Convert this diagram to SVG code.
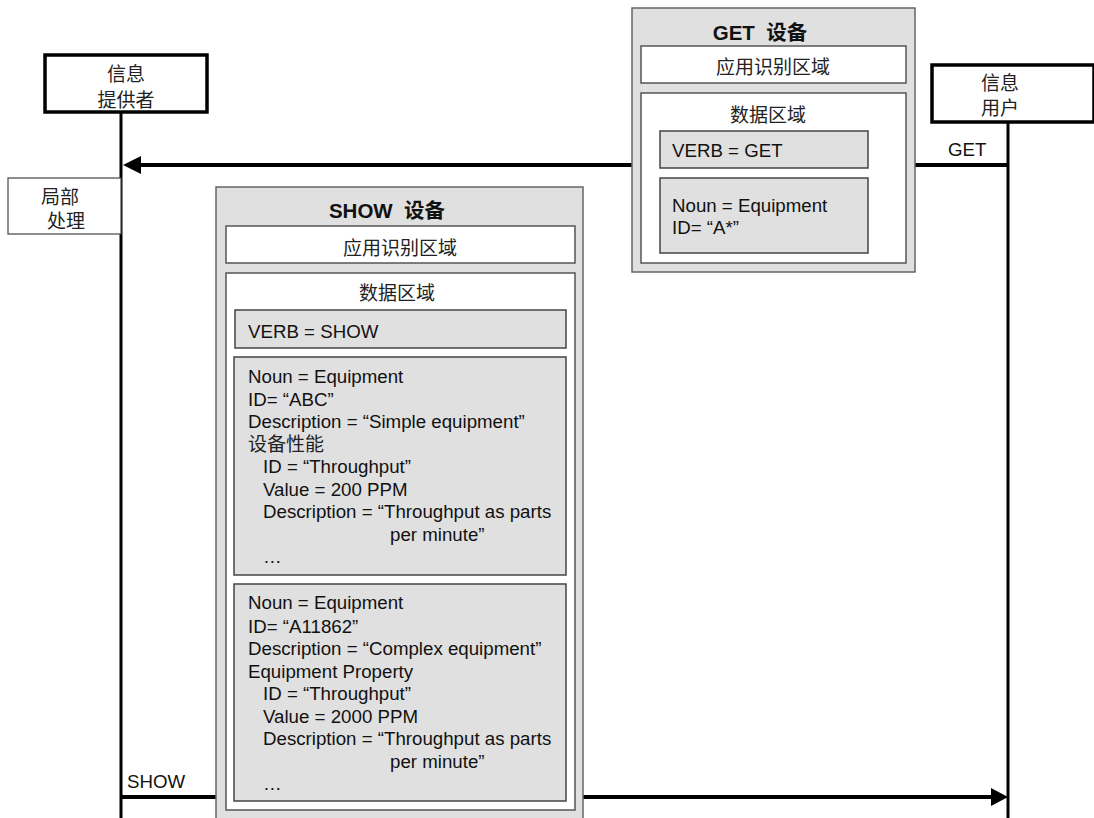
<svg xmlns="http://www.w3.org/2000/svg" width="1094" height="818" viewBox="0 0 1094 818">
<style>
.lat{font-family:"Liberation Sans",Arial,sans-serif;font-size:18.7px;fill:#111}
.cjk{font-family:"Noto Sans CJK SC","Liberation Sans",sans-serif;font-size:19px;fill:#222}
.act{font-family:"Noto Sans CJK SC","Liberation Sans",sans-serif;font-size:19px;fill:#222}
.ttl{font-family:"Liberation Sans","Noto Sans CJK SC",sans-serif;font-size:20.5px;font-weight:bold;fill:#111}
.outer{fill:#e0e0e0;stroke:#666;stroke-width:1.5}
.white{fill:#fff;stroke:#555;stroke-width:1.5}
.gray{fill:#e0e0e0;stroke:#444;stroke-width:1.5}
.actor{fill:#fff;stroke:#000;stroke-width:3.5}
.life{stroke:#000;stroke-width:3;fill:none}
.msg{stroke:#000;stroke-width:4;fill:none}
</style>
<rect width="1094" height="818" fill="#fff"/>
<g id="connectors">
<line class="life" x1="121" y1="112" x2="121" y2="818"/>
<line class="life" x1="1008" y1="122" x2="1008" y2="818"/>
<line class="msg" x1="1008" y1="165" x2="138" y2="165"/>
<polygon points="123,165 141,156 141,174" fill="#000"/>
<text class="lat" x="948" y="156" font-size="16.5">GET</text>
<line class="msg" x1="121" y1="797" x2="994" y2="797"/>
<polygon points="1008,797 991,788 991,806" fill="#000"/>
<text class="lat" x="127" y="788" font-size="16.5">SHOW</text>
</g>
<g id="provider">
<rect class="actor" x="45" y="55" width="162" height="57"/>
<text class="act" x="126" y="81" text-anchor="middle">信息</text>
<text class="act" x="126" y="107" text-anchor="middle">提供者</text>
</g>
<g id="user">
<rect class="actor" x="932" y="65" width="162" height="57"/>
<text class="act" x="1000" y="90" text-anchor="middle">信息</text>
<text class="act" x="1000" y="115" text-anchor="middle">用户</text>
</g>
<g id="local">
<rect x="8" y="178" width="113" height="56" fill="#fff" stroke="#444" stroke-width="1.2"/>
<text class="cjk" x="60" y="204" text-anchor="middle" font-size="18">局部</text>
<text class="cjk" x="66" y="228" text-anchor="middle" font-size="18">处理</text>
</g>
<g id="get-msg">
<rect class="outer" x="632" y="8" width="283" height="264"/>
<text class="ttl" x="760" y="40" text-anchor="middle">GET&#160; 设备</text>
<rect class="white" x="641" y="46" width="265" height="37"/>
<text class="cjk" x="773" y="74" text-anchor="middle">应用识别区域</text>
<rect class="white" x="641" y="93" width="265" height="170"/>
<text class="cjk" x="768" y="122" text-anchor="middle">数据区域</text>
<rect class="gray" x="660" y="131" width="208" height="37"/>
<text class="lat" x="672" y="157">VERB = GET</text>
<rect class="gray" x="660" y="178" width="208" height="75"/>
<text class="lat" x="672" y="212">Noun = Equipment</text>
<text class="lat" x="672" y="234">ID= “A*”</text>
</g>
<g id="show-msg">
<rect class="outer" x="216" y="187" width="367" height="650"/>
<text class="ttl" x="387" y="218" text-anchor="middle">SHOW&#160; 设备</text>
<rect class="white" x="226" y="226" width="349" height="37"/>
<text class="cjk" x="400" y="255" text-anchor="middle">应用识别区域</text>
<rect class="white" x="226" y="273" width="349" height="537"/>
<text class="cjk" x="397" y="300" text-anchor="middle">数据区域</text>
<rect class="gray" x="235" y="310" width="331" height="38"/>
<text class="lat" x="248" y="338">VERB = SHOW</text>
<rect class="gray" x="234" y="357" width="332" height="218"/>
<text class="lat" x="248" y="383">Noun = Equipment</text>
<text class="lat" x="248" y="405.5">ID= “ABC”</text>
<text class="lat" x="248" y="428">Description = “Simple equipment”</text>
<text class="cjk" x="248" y="451" font-size="17.5">设备性能</text>
<text class="lat" x="263" y="473">ID = “Throughput”</text>
<text class="lat" x="263" y="495.5">Value = 200 PPM</text>
<text class="lat" x="263" y="518">Description = “Throughput as parts</text>
<text class="lat" x="390" y="540.5">per minute”</text>
<text class="lat" x="263" y="563">…</text>
<rect class="gray" x="234" y="584" width="332" height="217"/>
<text class="lat" x="248" y="609">Noun = Equipment</text>
<text class="lat" x="248" y="632.5">ID= “A11862”</text>
<text class="lat" x="248" y="655">Description = “Complex equipment”</text>
<text class="lat" x="248" y="677.5">Equipment Property</text>
<text class="lat" x="263" y="700">ID = “Throughput”</text>
<text class="lat" x="263" y="722.5">Value = 2000 PPM</text>
<text class="lat" x="263" y="745">Description = “Throughput as parts</text>
<text class="lat" x="390" y="767.5">per minute”</text>
<text class="lat" x="263" y="790">…</text>
</g>
</svg>
